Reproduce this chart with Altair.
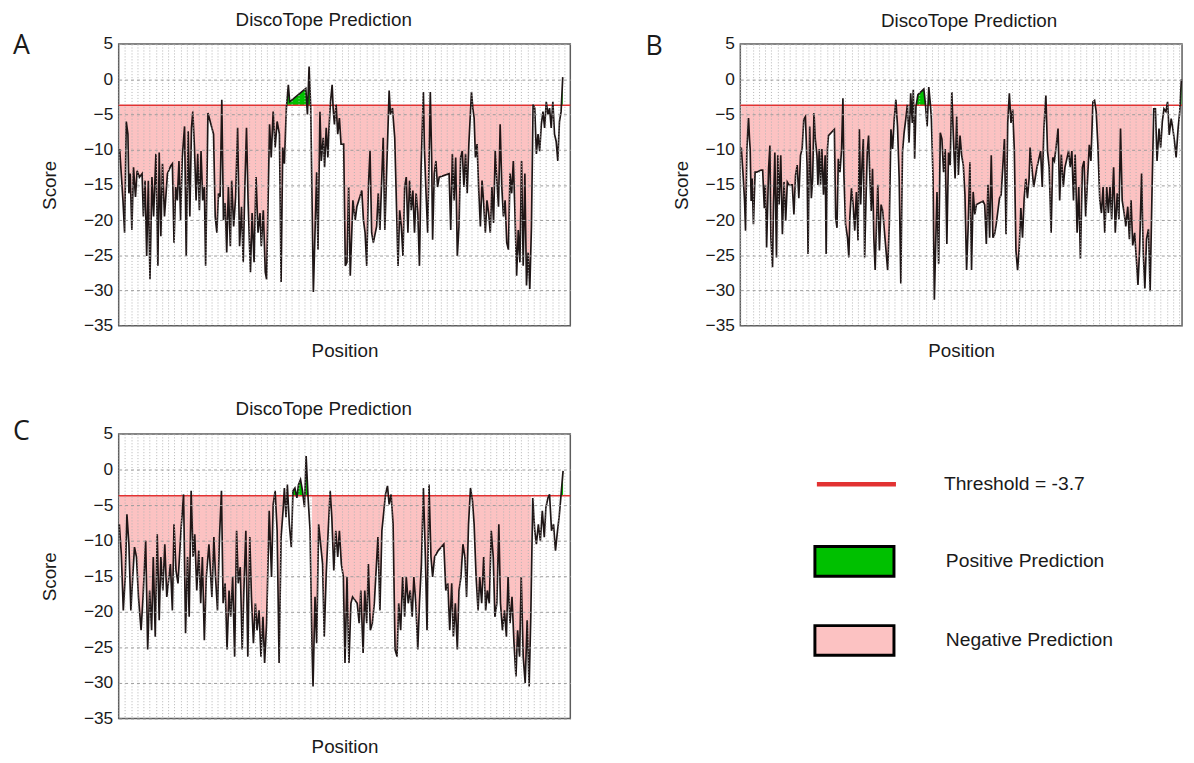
import altair as alt
import numpy as np
import pandas as pd

THRESHOLD = -3.7
FONT = "Liberation Sans"
TEXT = "#1a1a1a"
LINE = "#1f1616"
PINK = "#fcc2c2"
GREEN = "#00c000"
RED = "#e23232"
POS_LABEL = "Positive Prediction"
NEG_LABEL = "Negative Prediction"
THR_LABEL = f"Threshold = {THRESHOLD}"
Y_TICKS = [-35, -30, -25, -20, -15, -10, -5, 0, 5]

# ---------------- Panel A ----------------
A_pos = [3, 13, 18, 23, 28, 31, 35, 40, 45, 51, 56, 63, 71, 75, 80, 85, 90, 95, 101, 106,
         113, 119, 123, 128, 133, 139, 148, 158, 163, 168, 173, 178, 183, 188, 193, 200, 205, 211, 216, 221,
         225, 230, 235, 240, 245, 250, 255, 260, 264, 271, 288, 293, 298, 303, 308, 313, 318, 323, 328, 333,
         339, 343, 349, 355, 361, 367, 373, 378, 383, 388, 393, 400, 405, 411, 417, 423, 429, 433, 439, 445,
         449, 458, 463, 469, 475, 481, 488, 493, 498, 503, 509, 515, 519, 568, 573, 578, 583, 591, 601, 605,
         611, 615, 621, 625, 630, 635, 638, 643, 648, 651, 655, 660, 665, 670, 675, 683, 688, 693, 698, 703,
         711, 718, 723, 738, 743, 748, 753, 758, 763, 768, 773, 783, 788, 793, 803, 808, 821, 825, 831, 838,
         848, 853, 858, 863, 868, 873, 878, 883, 888, 893, 898, 903, 908, 913, 918, 925, 928, 933, 938, 946,
         950, 953, 958, 963, 968, 973, 1003, 1008, 1013, 1018, 1023, 1028, 1033, 1038, 1043, 1048, 1053, 1058, 1063, 1071,
         1075, 1079, 1083, 1088, 1093, 1098, 1103, 1108, 1113, 1118, 1123, 1128, 1133, 1138, 1143, 1148, 1153, 1158, 1163, 1168,
         1173, 1178, 1183, 1188, 1193, 1198, 1203, 1208, 1213, 1218, 1223, 1228, 1233, 1238, 1243, 1248, 1253, 1258, 1263, 1268,
         1273, 1278, 1283, 1288, 1293, 1298, 1303, 1308, 1313, 1318, 1323, 1328, 1333, 1338, 1343, 1348]
A_score = [-9.9, -17.2, -21.8, -6.0, -7.8, -16.2, -13.4, -21.4, -12.5, -16.7, -13.0, -13.9, -13.4, -19.5, -14.4, -25.1, -14.4, -28.4, -13.9, -19.5,
           -10.6, -26.5, -10.4, -22.3, -12.0, -19.5, -13.4, -12.3, -12.0, -23.2, -15.3, -17.2, -11.6, -20.0, -11.1, -6.7, -25.1, -7.4, -19.5, -6.9,
           -4.6, -9.7, -17.2, -10.6, -18.6, -10.2, -17.2, -15.3, -26.5, -4.8, -7.8, -19.5, -21.8, -16.2, -16.7, -2.9, -20.0, -17.6, -24.6, -15.3,
           -23.7, -14.4, -20.9, -16.7, -6.9, -23.7, -18.1, -26.0, -15.3, -6.9, -17.6, -27.4, -19.0, -26.0, -13.9, -21.8, -19.0, -23.7, -18.6, -27.4,
           -28.4, -6.4, -11.1, -4.6, -9.7, -6.0, -7.8, -28.8, -9.7, -12.0, -4.1, -0.8, -3.2, -1.3, -5.0, 1.8, -4.1, -30.2, -13.2, -24.2,
           -4.6, -11.6, -8.3, -12.5, -6.9, -11.1, -7.4, -3.2, -0.8, -4.1, -6.4, -3.6, -7.8, -5.5, -9.2, -9.2, -26.5, -26.0, -15.3, -27.9,
           -17.2, -20.0, -18.1, -15.8, -20.0, -21.8, -26.5, -15.3, -10.2, -21.8, -23.2, -20.9, -16.2, -21.4, -8.3, -21.4, -1.6, -5.0, -4.1, -8.3,
           -26.5, -18.6, -20.9, -25.1, -15.3, -13.9, -21.8, -14.4, -18.6, -15.8, -21.8, -16.2, -19.0, -26.5, -12.5, -1.8, -9.7, -16.2, -21.8, -1.8,
           -11.1, -22.8, -13.4, -11.6, -15.3, -13.9, -13.4, -21.4, -10.6, -17.2, -11.1, -25.1, -20.9, -11.1, -10.2, -15.3, -10.6, -16.2, -9.2, -1.8,
           -4.1, -5.5, -11.1, -9.2, -15.8, -20.9, -14.4, -17.6, -21.8, -17.2, -19.0, -21.8, -15.3, -20.4, -10.2, -14.4, -18.1, -6.4, -15.3, -19.5,
           -17.2, -23.2, -24.2, -13.4, -16.2, -11.6, -19.0, -27.9, -21.4, -26.0, -11.6, -26.5, -13.4, -29.3, -24.6, -29.8, -20.9, -3.6, -4.1, -10.6,
           -7.8, -10.2, -6.4, -4.6, -6.9, -3.2, -5.0, -4.1, -6.9, -3.2, -7.8, -8.8, -11.6, -6.0, -4.6, 0.3]
A_pink = [[0, 512], [585, 1255]]
A_green = [[505, 586], [1340, 1350]]

# ---------------- Panel B ----------------
B_pos = [3, 8, 13, 16, 20, 25, 28, 30, 33, 36, 40, 45, 50, 63, 68, 73, 76, 80, 86, 90,
         93, 98, 101, 105, 110, 114, 118, 123, 128, 133, 138, 143, 148, 158, 163, 168, 173, 178, 183, 188,
         193, 198, 203, 206, 211, 216, 220, 224, 228, 233, 236, 240, 244, 248, 253, 258, 261, 265, 268, 286,
         290, 294, 298, 303, 308, 312, 315, 320, 326, 330, 333, 338, 343, 348, 353, 358, 362, 366, 370, 374,
         378, 382, 386, 390, 394, 398, 402, 406, 410, 414, 418, 423, 428, 433, 438, 443, 448, 453, 458, 463,
         468, 473, 478, 483, 488, 493, 498, 503, 508, 513, 518, 523, 526, 530, 534, 540, 558, 563, 568, 573,
         578, 581, 586, 590, 594, 598, 603, 608, 613, 618, 623, 628, 633, 638, 643, 648, 653, 658, 663, 668,
         673, 678, 683, 688, 693, 698, 703, 708, 713, 718, 738, 743, 748, 753, 758, 763, 768, 773, 778, 788,
         793, 803, 808, 813, 818, 823, 828, 833, 838, 843, 848, 853, 858, 863, 868, 873, 878, 881, 892, 902,
         913, 918, 923, 929, 934, 939, 945, 950, 955, 960, 966, 971, 976, 982, 987, 998, 1003, 1008, 1013, 1018,
         1024, 1029, 1034, 1040, 1045, 1050, 1061, 1066, 1072, 1077, 1082, 1087, 1093, 1098, 1103, 1108, 1114, 1119, 1124, 1129,
         1135, 1140, 1146, 1151, 1156, 1161, 1167, 1172, 1178, 1183, 1188, 1193, 1199, 1204, 1209, 1214, 1220, 1225, 1230, 1235,
         1241, 1246, 1252, 1257, 1262, 1267, 1273, 1278, 1283, 1288, 1294, 1299, 1304, 1310, 1315, 1320, 1325, 1331, 1336, 1341]
B_score = [-9.7, -13.2, -17.3, -21.5, -9.9, -5.5, -8.5, -9.9, -17.3, -14.1, -20.6, -13.2, -13.2, -12.9, -12.9, -18.3, -15.0, -23.9, -12.7, -9.4,
           -22.5, -26.7, -17.8, -10.4, -25.3, -10.8, -17.8, -10.8, -22.0, -14.6, -20.1, -14.6, -15.0, -15.0, -19.2, -13.6, -12.2, -16.9, -10.8, -9.9,
           -5.7, -5.3, -12.2, -24.8, -6.7, -16.9, -14.1, -4.8, -8.5, -10.8, -15.0, -9.9, -15.0, -9.9, -16.4, -10.8, -24.8, -9.9, -8.0, -7.1,
           -19.7, -21.1, -11.3, -13.2, -9.9, -2.7, -13.6, -20.6, -22.5, -25.3, -19.7, -15.5, -17.8, -21.5, -16.0, -22.9, -7.1, -17.8, -12.2, -8.5,
           -25.3, -17.3, -10.4, -8.0, -14.1, -18.7, -12.7, -22.5, -27.1, -20.6, -15.0, -24.3, -17.8, -18.7, -21.5, -24.3, -27.1, -20.6, -7.1, -9.9,
           -5.7, -2.9, -6.7, -14.1, -29.0, -10.4, -7.6, -5.7, -3.6, -9.0, -2.0, -6.2, -1.5, -11.3, -3.9, -2.2, -1.4, -3.6, -6.7, -1.1,
           -3.6, -5.7, -14.1, -31.3, -23.4, -16.0, -26.2, -7.6, -8.5, -13.2, -9.9, -23.4, -10.4, -12.2, -1.8, -8.5, -14.1, -5.3, -13.6, -8.0,
           -10.8, -12.2, -16.4, -27.1, -20.6, -11.8, -27.1, -16.0, -19.2, -17.8, -17.3, -17.8, -23.4, -15.0, -22.5, -10.8, -22.5, -22.0, -20.6, -16.9,
           -16.4, -8.5, -22.0, -6.2, -2.0, -6.2, -4.3, -9.9, -24.3, -27.1, -23.9, -18.3, -22.5, -16.9, -14.1, -16.9, -14.1, -9.7, -15.3, -12.5,
           -10.2, -15.3, -7.0, -2.3, -10.2, -12.5, -21.8, -11.1, -11.6, -9.7, -7.0, -17.2, -10.7, -15.3, -12.5, -10.2, -12.5, -10.2, -17.2, -10.7,
           -21.8, -15.3, -25.5, -12.5, -11.6, -19.5, -9.3, -11.6, -3.2, -3.0, -4.6, -9.3, -17.2, -19.0, -15.3, -21.8, -15.3, -19.0, -15.3, -19.9,
           -12.5, -21.8, -16.2, -19.9, -7.0, -17.2, -19.0, -20.9, -18.1, -22.7, -17.2, -23.6, -21.8, -25.5, -29.2, -24.1, -13.4, -24.6, -29.7, -22.7,
           -21.3, -30.1, -15.3, -4.2, -4.2, -11.6, -7.0, -9.7, -6.0, -4.2, -4.6, -3.2, -7.9, -5.6, -7.0, -8.8, -11.1, -7.0, -4.6, 0.0]
B_pink = [[0, 510], [584, 1254]]
B_green = [[505, 584], [1333, 1345]]

# ---------------- Panel C ----------------
C_pos = [2, 8, 14, 20, 25, 31, 37, 42, 48, 54, 60, 68, 74, 82, 88, 94, 100, 105, 111, 117,
         123, 128, 134, 140, 146, 157, 163, 168, 174, 180, 189, 197, 203, 209, 214, 220, 226, 231, 237, 243,
         249, 254, 260, 266, 274, 283, 289, 294, 300, 306, 312, 317, 323, 329, 335, 340, 346, 352, 358, 363,
         369, 375, 380, 386, 392, 398, 403, 409, 415, 420, 426, 432, 438, 443, 449, 457, 464, 469, 475, 481,
         487, 493, 499, 503, 508, 512, 518, 524, 529, 535, 541, 546, 552, 558, 564, 569, 575, 581, 587, 590,
         596, 601, 607, 613, 619, 624, 630, 636, 642, 647, 653, 659, 665, 670, 676, 682, 687, 693, 699, 705,
         710, 724, 730, 735, 742, 747, 753, 758, 764, 770, 776, 787, 793, 799, 810, 816, 821, 827, 833, 839,
         845, 850, 856, 862, 868, 873, 879, 885, 891, 896, 902, 908, 913, 919, 925, 931, 936, 942, 948, 953,
         959, 970, 987, 993, 999, 1005, 1011, 1016, 1022, 1028, 1033, 1039, 1045, 1051, 1056, 1062, 1068, 1074, 1079, 1085,
         1091, 1096, 1102, 1108, 1114, 1119, 1125, 1131, 1137, 1142, 1148, 1154, 1159, 1165, 1171, 1177, 1182, 1188, 1194, 1200,
         1206, 1211, 1217, 1222, 1228, 1234, 1240, 1246, 1251, 1257, 1263, 1268, 1274, 1280, 1286, 1292, 1297, 1303, 1308, 1314,
         1320, 1326, 1331, 1337, 1343, 1349]
C_score = [-7.7, -11.9, -19.8, -15.1, -6.3, -10.5, -19.8, -15.6, -10.9, -12.3, -17.9, -22.6, -17.9, -10.0, -25.3, -17.0, -22.6, -12.3, -23.5, -9.1,
           -21.2, -12.3, -17.0, -10.5, -17.9, -13.3, -19.8, -7.7, -14.2, -16.0, -8.6, -3.5, -23.0, -12.3, -20.7, -3.0, -12.3, -9.1, -17.0, -11.4,
           -18.8, -12.3, -24.0, -15.1, -10.5, -17.9, -9.5, -15.1, -19.8, -9.5, -3.0, -18.8, -16.0, -25.3, -17.0, -20.7, -15.1, -26.3, -8.6, -16.0,
           -13.7, -25.3, -17.0, -8.6, -26.3, -9.5, -17.9, -24.4, -18.8, -22.6, -19.8, -26.3, -20.7, -27.2, -21.6, -5.8, -15.1, -4.9, -3.0, -8.6,
           -27.2, -9.5, -5.8, -2.6, -6.7, -2.1, -7.7, -10.9, -3.0, -2.6, -4.0, -2.1, -1.4, -3.0, -5.3, 1.9, -4.0, -8.6, -25.3, -30.5,
           -17.9, -24.4, -7.7, -10.5, -13.3, -23.5, -14.7, -8.6, -3.0, -6.7, -14.2, -8.6, -12.3, -8.6, -13.3, -15.1, -27.2, -15.1, -27.2, -18.8,
           -17.9, -18.8, -21.6, -17.0, -25.8, -17.0, -21.6, -13.3, -22.6, -21.6, -18.8, -9.5, -19.8, -8.6, -3.5, -2.3, -4.9, -3.5, -7.7, -25.3,
           -26.3, -18.8, -22.6, -15.1, -20.7, -15.1, -18.8, -17.0, -20.7, -15.1, -18.8, -25.3, -18.8, -13.3, -2.6, -12.3, -22.6, -2.1, -12.3, -15.1,
           -12.3, -11.4, -10.5, -17.0, -16.0, -22.6, -16.0, -23.5, -18.8, -25.3, -17.0, -15.1, -10.5, -12.3, -17.9, -7.7, -2.6, -4.4, -7.7, -15.1,
           -19.8, -15.1, -18.8, -12.3, -19.8, -17.0, -18.8, -8.6, -12.3, -20.7, -18.8, -7.7, -18.8, -22.6, -19.8, -23.5, -15.1, -21.6, -17.9, -24.4,
           -29.1, -22.6, -26.3, -15.1, -26.3, -30.0, -21.2, -30.5, -20.7, -4.0, -8.6, -10.5, -7.7, -10.0, -5.8, -9.5, -5.3, -4.0, -3.5, -8.6,
           -7.7, -11.4, -9.1, -6.7, -3.5, -0.2]
C_pink = [[0, 505], [584, 1253]]
C_green = [[505, 584], [1340, 1350]]


def with_crossings(pos, score, thr):
    xs, ys = [], []
    for i, (p, s) in enumerate(zip(pos, score)):
        if i:
            p0, s0 = pos[i - 1], score[i - 1]
            if (s0 - thr) * (s - thr) < 0:
                t = (thr - s0) / (s - s0)
                xs.append(p0 + t * (p - p0))
                ys.append(thr)
        xs.append(p)
        ys.append(s)
    return np.array(xs, float), np.array(ys, float)


def band_frame(xs, ys, ranges, kind):
    rows = []
    for k, (lo, hi) in enumerate(ranges):
        m = (xs >= lo) & (xs <= hi)
        for x, y in zip(xs[m], ys[m]):
            v = min(y, THRESHOLD) if kind == NEG_LABEL else max(y, THRESHOLD)
            rows.append({"pos": float(x), "v": float(v), "thr": THRESHOLD, "seg": k, "kind": kind})
    return pd.DataFrame(rows)


fill_legend = alt.Legend(title=None, orient="none", legendX=703, legendY=482,
                         symbolType="M-1,-0.375H1V0.375H-1Z", symbolSize=6400,
                         symbolStrokeColor="black", symbolStrokeWidth=3,
                         labelFont=FONT, labelFontSize=19.5, labelColor=TEXT,
                         labelOffset=51, rowPadding=17, labelLimit=400)
stroke_legend = alt.Legend(title=None, orient="none", legendX=704, legendY=403,
                           symbolType="stroke", symbolSize=6400, symbolStrokeWidth=4.5,
                           labelFont=FONT, labelFontSize=19.5, labelColor=TEXT,
                           labelOffset=46, labelLimit=400)


def panel(pos, score, pink, green, letter, width, height, xmax, title_dx, title_offset,
          letter_dx, letter_y, xtitle_pad, ytitle_pad):
    xs, ys = with_crossings(pos, score, THRESHOLD)
    line_df = pd.DataFrame({"pos": pos, "score": score})
    neg_df = band_frame(xs, ys, pink, NEG_LABEL)
    pos_df = band_frame(xs, ys, green, POS_LABEL)
    thr_df = pd.DataFrame({"thr": [THRESHOLD], "label": [THR_LABEL]})
    letter_df = pd.DataFrame({"t": [letter]})

    xscale = alt.Scale(domain=[0, xmax], nice=False, zero=False)
    yscale = alt.Scale(domain=[-35, 5], nice=False, zero=False)
    grid_x = [round(float(v), 2) for v in np.arange(0, xmax + 0.01, 18.8)]
    xaxis = alt.Axis(title="Position", values=grid_x, labels=False, ticks=False, domain=False,
                     grid=True, gridDash=[1, 2], gridColor="#b4b4b4", gridWidth=1,
                     titleFont=FONT, titleFontSize=19, titleFontWeight="normal",
                     titleColor=TEXT, titlePadding=xtitle_pad, zindex=1)
    yaxis = alt.Axis(title="Score", values=Y_TICKS, ticks=False, tickSize=0, domain=False,
                     grid=True, gridDash=[3, 3], gridColor="#9c9c9c", gridWidth=1,
                     labelFont=FONT, labelFontSize=17.5, labelColor=TEXT, labelPadding=6,
                     titleFont=FONT, titleFontSize=19, titleFontWeight="normal",
                     titleColor=TEXT, titlePadding=ytitle_pad, zindex=1)
    fill_enc = alt.Fill("kind:N", scale=alt.Scale(domain=[POS_LABEL, NEG_LABEL], range=[GREEN, PINK]),
                        legend=fill_legend)

    neg = alt.Chart(neg_df).mark_area().encode(
        x=alt.X("pos:Q", scale=xscale, axis=xaxis),
        y=alt.Y("v:Q", scale=yscale, axis=yaxis, stack=False),
        y2="thr:Q", fill=fill_enc, detail="seg:N")
    posa = alt.Chart(pos_df).mark_area().encode(
        x=alt.X("pos:Q", scale=xscale, axis=xaxis),
        y=alt.Y("v:Q", scale=yscale, axis=yaxis, stack=False),
        y2="thr:Q", fill=fill_enc, detail="seg:N")
    rule = alt.Chart(thr_df).mark_rule(strokeWidth=1.5).encode(
        y=alt.Y("thr:Q", scale=yscale, axis=yaxis),
        stroke=alt.Stroke("label:N", scale=alt.Scale(domain=[THR_LABEL], range=[RED]),
                          legend=stroke_legend))
    line = alt.Chart(line_df).mark_line(color=LINE, strokeWidth=1.7).encode(
        x=alt.X("pos:Q", scale=xscale, axis=xaxis),
        y=alt.Y("score:Q", scale=yscale, axis=yaxis))
    tag = alt.Chart(letter_df).mark_text(font="Open Sans", fontSize=27, align="left",
                                         baseline="alphabetic", color=TEXT).encode(
        text="t:N", x=alt.value(letter_dx), y=alt.value(letter_y))
    return alt.layer(neg, posa, rule, line, tag).properties(
        width=width, height=height,
        title=alt.TitleParams("DiscoTope Prediction", font=FONT, fontSize=19, fontWeight="normal",
                              color=TEXT, anchor="middle", frame="group", offset=title_offset,
                              dx=title_dx))


pA = panel(A_pos, A_score, A_pink, A_green, "A", 457, 285, 1371, -21, 2.5, -107, 10, 16, 24)
pB = panel(B_pos, B_score, B_pink, B_green, "B", 447, 285, 1343, 8, 2.5, -96, 11, 16, 14)
pC = panel(C_pos, C_score, C_pink, C_green, "C", 457, 288, 1371, -21, -1, -107, 6, 19, 24)

chart = alt.vconcat(
    alt.hconcat(pA, pB, spacing=73),
    pC,
    spacing=38.5,
).properties(
    padding={"left": 4, "top": -3, "right": 0, "bottom": 0}
).configure_view(
    stroke="#5c5c5c", strokeWidth=1.5
)

chart.save("out.html", embed_options={"renderer": "svg", "actions": False})
